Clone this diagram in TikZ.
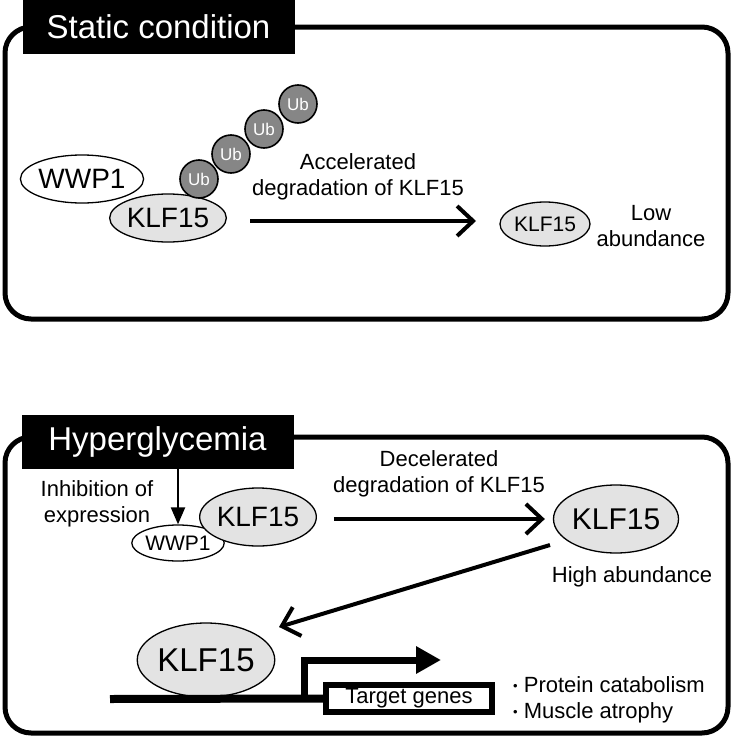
\documentclass[tikz,border=0pt]{standalone}
\usepackage{fontspec}
\setmainfont{Liberation Sans}
\usetikzlibrary{positioning,arrows.meta,shapes.geometric}

\begin{document}
\begin{tikzpicture}[
x=1pt, y=-1pt,
font=\fontsize{22}{26}\selectfont,
frame/.style={line width=5pt, rounded corners=26pt},
head/.style={fill=black, text=white, font=\fontsize{33}{36}\selectfont, minimum width=272pt, minimum height=54pt, inner sep=0pt},
prot/.style={draw, ellipse, line width=1.3pt, inner sep=0pt},
klf/.style={prot, fill=gray!22},
ubq/.style={circle, draw, line width=1.6pt, fill=gray!95, text=white, inner sep=0pt, minimum size=38pt, font=\fontsize{17}{17}\selectfont},
arr/.style={line width=4pt, -{Straight Barb[length=16pt, width=30pt, line width=4pt]}},
inh/.style={line width=2.2pt, -{Triangle[length=17pt, width=14pt]}},
txt/.style={align=center, inner sep=0pt}
]
\useasboundingbox (0,0) rectangle (735,739);

% static condition
\draw[frame] (5,27) rectangle (728,319);
\node[head] (stat) at (158.5,27) {Static condition};

\node[prot, minimum width=112pt, minimum height=48pt, font=\fontsize{28}{28}\selectfont] (wwpA) at (82,179) {WWP1};
\node[klf, minimum width=114pt, minimum height=48pt, font=\fontsize{28}{28}\selectfont] (klfA) at (168,218) {KLF15};
\node[ubq] (ub4) at (298,104) {Ub};
\node[ubq] (ub3) at (264,129) {Ub};
\node[ubq] (ub2) at (231,154) {Ub};
\node[ubq] (ub1) at (199,179) {Ub};

\coordinate (acc0) at (250,221);
\coordinate (acc1) at (476,221);
\draw[arr] (acc0) -- (acc1);
\node[txt] (acctxt) at (358,177) {Accelerated\\degradation of KLF15};

\node[klf, minimum width=90pt, minimum height=44pt, font=\fontsize{21}{21}\selectfont] (klfB) at (545,224) {KLF15};
\node[txt] (low) at (651,226) {Low\\abundance};

% hyperglycemia
\draw[frame] (5,437) rectangle (728,733);
\node[head] (hyp) at (157.5,442) {Hyperglycemia};

\node[prot, minimum width=90pt, minimum height=36pt, font=\fontsize{21}{21}\selectfont] (wwpB) at (178,543) {WWP1};
\node[klf, minimum width=113pt, minimum height=58pt, font=\fontsize{28}{28}\selectfont] (klfC) at (258,517) {KLF15};
\draw[inh] (hyp.south -| wwpB.north) -- (wwpB.north);
\node[txt] (inhtxt) at (97,504) {Inhibition of\\expression};

\node[klf, minimum width=104pt, minimum height=68pt, font=\fontsize{30}{30}\selectfont] (klfD) at (616,519) {KLF15};
\draw[arr] ([xshift=17pt]klfC.east |- klfD.west) -- ([xshift=-8pt]klfD.west);
\node[txt] (dectxt) at (439,474) {Decelerated\\degradation of KLF15};
\node[txt] (high) at (632,577) {High abundance};

\node[klf, minimum width=136pt, minimum height=74pt, font=\fontsize{33}{33}\selectfont] (klfE) at (206,660) {KLF15};
\coordinate (dg0) at (550,545);
\coordinate (dg1) at (279,627);
\draw[arr] (dg0) -- (dg1);

% gene
\node[draw, line width=6pt, fill=white, minimum width=166pt, minimum height=27pt, inner sep=0pt] (tgt) at (409,698.5) {Target genes};
\draw[line width=8pt] (110,699) -- (tgt.west);
\draw[line width=7pt, -{Triangle[length=25pt, width=26pt]}] (304,699) -- (304,660) -- (441,660);
\node[anchor=west, align=left, inner sep=0pt] (out) at (513,700) {{\fontsize{13}{13}\selectfont\raisebox{2pt}{•}} Protein catabolism\\{\fontsize{13}{13}\selectfont\raisebox{2pt}{•}} Muscle atrophy};
\end{tikzpicture}
\end{document}
